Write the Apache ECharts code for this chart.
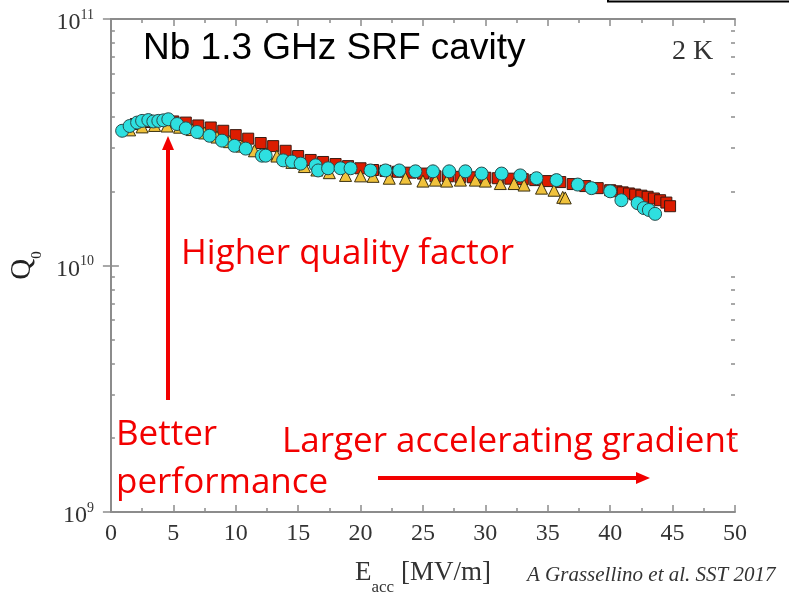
<!DOCTYPE html>
<html>
<head>
<meta charset="utf-8">
<script src="https://cdn.jsdelivr.net/npm/echarts@6/dist/echarts.min.js"></script>
<style>
html,body{margin:0;padding:0;background:#fff;}
#c{width:789px;height:601px;}
</style>
</head>
<body>
<div id="c"></div>
<script>
// ---- data (E_acc in MV/m, Q0) ----
const cyanE = [0.9,1.5,2.1,2.5,3.0,3.4,3.8,4.2,4.6,5.3,6.0,6.9,7.9,8.9,9.9,10.8,12.1,12.4,13.8,14.5,15.2,16.4,16.6,17.4,18.4,19.2,20.8,22.0,23.1,24.4,25.8,27.1,28.4,29.7,31.3,32.8,34.1,35.7,37.4,38.5,40.0,40.9,42.2,42.7,43.1,43.6];
const cyanQ = [3.52e10,3.68e10,3.80e10,3.86e10,3.89e10,3.84e10,3.86e10,3.88e10,3.92e10,3.75e10,3.60e10,3.48e10,3.36e10,3.21e10,3.06e10,2.98e10,2.79e10,2.79e10,2.67e10,2.64e10,2.59e10,2.55e10,2.43e10,2.48e10,2.48e10,2.48e10,2.43e10,2.43e10,2.43e10,2.41e10,2.41e10,2.41e10,2.41e10,2.36e10,2.36e10,2.32e10,2.26e10,2.22e10,2.13e10,2.06e10,2.00e10,1.84e10,1.79e10,1.71e10,1.68e10,1.62e10];

const redE = [2,3,4,5,6,7,8,9,10,11,12,13,14,15,16,17,18,19,20,21,22,23,24,25,26,27,28,29,30,31,32,33,34,35,36,37,38,39,40,40.5,41,41.5,42,42.5,43,43.5,44,44.5,44.8];
const redQ = [3.75e10,3.82e10,3.86e10,3.84e10,3.80e10,3.70e10,3.63e10,3.52e10,3.38e10,3.27e10,3.14e10,3.05e10,2.92e10,2.78e10,2.68e10,2.63e10,2.58e10,2.53e10,2.48e10,2.44e10,2.42e10,2.40e10,2.38e10,2.36e10,2.30e10,2.30e10,2.29e10,2.28e10,2.27e10,2.26e10,2.25e10,2.24e10,2.22e10,2.20e10,2.18e10,2.14e10,2.10e10,2.06e10,2.02e10,2.00e10,1.98e10,1.96e10,1.94e10,1.92e10,1.90e10,1.87e10,1.84e10,1.80e10,1.74e10];

const yellowE = [1.5,2.5,3.5,4.5,5.5,6.5,7.5,8.5,9.5,10.5,11.5,12.5,13.3,14.5,15.5,16.5,17.5,18.8,20.0,21.0,22.3,23.6,25.0,26.0,26.9,28.0,29.2,30.0,31.2,32.3,33.1,34.5,35.5,36.2,36.4];
const yellowQ = [3.55e10,3.65e10,3.70e10,3.68e10,3.64e10,3.56e10,3.45e10,3.32e10,3.18e10,3.05e10,2.92e10,2.84e10,2.78e10,2.62e10,2.52e10,2.44e10,2.38e10,2.32e10,2.31e10,2.30e10,2.26e10,2.26e10,2.20e10,2.22e10,2.20e10,2.22e10,2.22e10,2.20e10,2.15e10,2.15e10,2.12e10,2.06e10,2.02e10,1.89e10,1.88e10];

// ---- axes ----
const xMin = 0, xMax = 50, xStep = 5;
const yMin = 1e9, yMax = 1e11;
const decades = [9, 10];
const minorMults = [2,3,4,5,6,7,8,9];

// ---- annotation texts ----
const titleText = 'Nb 1.3 GHz SRF cavity';
const tempText = '2 K';
const upText = 'Higher quality factor';
const betterText1 = 'Better';
const betterText2 = 'performance';
const rightText = 'Larger accelerating gradient';
const citeText = 'A Grassellino et al. SST 2017';

const pair = (xs, ys) => xs.map((x, i) => [x, ys[i]]);
const minorLog = [];
decades.forEach(d => minorMults.forEach(m => minorLog.push(Math.log10(m) + d)));

const axisColor = '#8c8c8c';
const labelColor = '#333';
const serif = '"Liberation Serif", "Times New Roman", serif';
const redFont = '"Open Sans", Lato, sans-serif';
const redColor = '#f20000';

const chart = echarts.init(document.getElementById('c'), null, {renderer: 'canvas'});

const baseX = {
  type: 'value', min: xMin, max: xMax, interval: xStep,
  axisLine: {show: true, lineStyle: {color: axisColor, width: 2}},
  axisTick: {show: true, inside: true, length: 7, lineStyle: {color: axisColor, width: 1.5}},
  minorTick: {show: true, splitNumber: 2, length: 4, lineStyle: {color: axisColor, width: 1.5}},
  splitLine: {show: false}, minorSplitLine: {show: false}
};

const redTextEl = (x, y, text) => ({
  type: 'text', x: x, y: y,
  style: {text: text, fontFamily: redFont, fontSize: 35, fill: redColor, align: 'left', verticalAlign: 'middle', textAlign: 'left', textVerticalAlign: 'middle'}
});

const option = {
  animation: false,
  backgroundColor: '#fff',
  grid: {left: 106, top: 19, right: 54, bottom: 84, containLabel: false},
  xAxis: [
    Object.assign({}, baseX, {
      position: 'bottom',
      axisLabel: {show: true, fontFamily: serif, fontSize: 24, color: labelColor, margin: 10, lineHeight: 24},
      name: '{e|E}{sub|acc}{u| [MV/m]}',
      nameLocation: 'middle', nameGap: 47,
      nameTextStyle: {
        fontFamily: serif, color: labelColor,
        rich: {
          e: {fontFamily: serif, fontSize: 27, lineHeight: 29, verticalAlign: 'top', color: labelColor},
          sub: {fontFamily: serif, fontSize: 17, lineHeight: 17, verticalAlign: 'top', padding: [20, 0, 0, 0], color: labelColor},
          u: {fontFamily: serif, fontSize: 27, lineHeight: 29, verticalAlign: 'top', color: labelColor}
        }
      }
    }),
    Object.assign({}, baseX, {position: 'top', axisLabel: {show: false}})
  ],
  yAxis: [
    {
      type: 'log', logBase: 10, min: yMin, max: yMax, position: 'left',
      axisLine: {show: true, lineStyle: {color: axisColor, width: 2}},
      axisTick: {show: true, inside: true, length: 8, lineStyle: {color: axisColor, width: 1.5}},
      splitLine: {show: false},
      axisLabel: {
        show: true, margin: 17,
        formatter: v => '{b|10}{s|' + Math.round(Math.log10(v)) + '}',
        rich: {
          b: {fontFamily: serif, fontSize: 24, lineHeight: 24, verticalAlign: 'top', padding: [4, 0, 0, 0], color: labelColor},
          s: {fontFamily: serif, fontSize: 14, lineHeight: 14, verticalAlign: 'top', padding: [1, 0, 0, 0], color: labelColor}
        }
      },
      name: '{q|Q}{s|0}',
      nameLocation: 'middle', nameGap: 66,
      nameTextStyle: {
        fontFamily: serif, color: '#222',
        rich: {
          q: {fontFamily: serif, fontSize: 29, lineHeight: 29, verticalAlign: 'top', color: '#222'},
          s: {fontFamily: serif, fontSize: 15, lineHeight: 15, verticalAlign: 'top', padding: [22, 0, 0, 0], color: '#222'}
        }
      }
    },
    {
      type: 'log', logBase: 10, min: yMin, max: yMax, position: 'right',
      axisLine: {show: true, lineStyle: {color: axisColor, width: 2}},
      axisTick: {show: true, inside: true, length: 8, lineStyle: {color: axisColor, width: 1.5}},
      splitLine: {show: false}, axisLabel: {show: false}
    },
    {
      type: 'value', min: 9, max: 11, position: 'left',
      axisLine: {show: false},
      axisTick: {show: true, inside: true, length: 4, customValues: minorLog, lineStyle: {color: axisColor, width: 1.5}},
      axisLabel: {show: false}, splitLine: {show: false}
    },
    {
      type: 'value', min: 9, max: 11, position: 'right',
      axisLine: {show: false},
      axisTick: {show: true, inside: true, length: 4, customValues: minorLog, lineStyle: {color: axisColor, width: 1.5}},
      axisLabel: {show: false}, splitLine: {show: false}
    }
  ],
  series: [
    {
      type: 'scatter', xAxisIndex: 0, yAxisIndex: 0, data: pair(redE, redQ),
      symbol: 'rect', symbolSize: 11,
      itemStyle: {color: '#dc1c00', borderColor: '#3a1a10', borderWidth: 1, opacity: 1}
    },
    {
      type: 'scatter', xAxisIndex: 0, yAxisIndex: 0, data: pair(yellowE, yellowQ),
      symbol: 'triangle', symbolSize: 12,
      itemStyle: {color: '#f0c23c', borderColor: '#3a3010', borderWidth: 1, opacity: 1}
    },
    {
      type: 'scatter', xAxisIndex: 0, yAxisIndex: 0, data: pair(cyanE, cyanQ),
      symbol: 'circle', symbolSize: 13,
      itemStyle: {color: '#2ee0e0', borderColor: '#2a4a4a', borderWidth: 1, opacity: 1}
    }
  ],
  graphic: [
    {type: 'text', x: 143, y: 49, style: {text: titleText, fontFamily: '"Liberation Sans", Arial, sans-serif', fontSize: 37, fill: '#000', align: 'left', verticalAlign: 'middle', textAlign: 'left', textVerticalAlign: 'middle'}},
    {type: 'text', x: 672, y: 52, style: {text: tempText, fontFamily: serif, fontSize: 28, fill: '#333', align: 'left', verticalAlign: 'middle', textAlign: 'left', textVerticalAlign: 'middle'}},
    redTextEl(181, 254, upText),
    redTextEl(116, 435, betterText1),
    redTextEl(116, 483, betterText2),
    redTextEl(282, 442, rightText),
    {type: 'text', x: 527, y: 575, style: {text: citeText, fontFamily: serif, fontStyle: 'italic', fontSize: 21, fill: '#333', align: 'left', verticalAlign: 'middle', textAlign: 'left', textVerticalAlign: 'middle'}},
    // vertical arrow
    {type: 'line', shape: {x1: 168, y1: 400, x2: 168, y2: 148}, style: {stroke: redColor, lineWidth: 4}},
    {type: 'polygon', shape: {points: [[168, 136], [162, 150], [174, 150]]}, style: {fill: redColor}},
    // horizontal arrow
    {type: 'line', shape: {x1: 378, y1: 478, x2: 638, y2: 478}, style: {stroke: redColor, lineWidth: 4}},
    {type: 'polygon', shape: {points: [[650, 478], [636, 472], [636, 484]]}, style: {fill: redColor}},
    // cropped box at top right
    {type: 'rect', shape: {x: 608, y: -20, width: 200, height: 21.5}, style: {fill: 'none', stroke: '#000', lineWidth: 2}}
  ]
};
chart.setOption(option);
</script>
</body>
</html>
